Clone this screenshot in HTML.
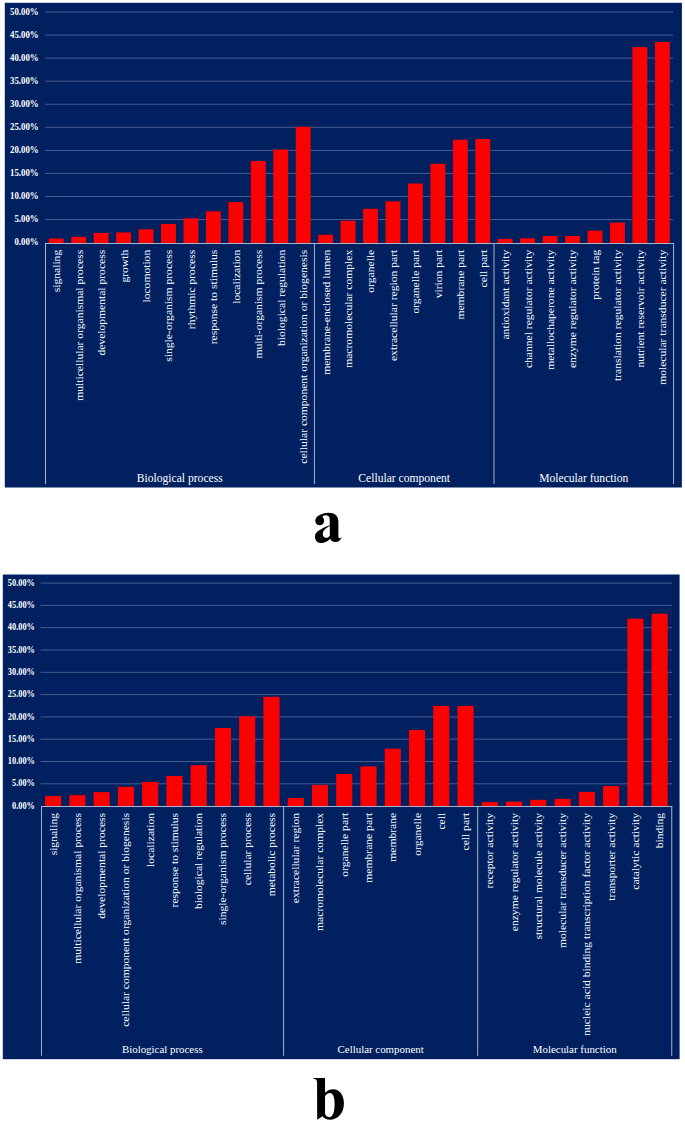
<!DOCTYPE html>
<html><head><meta charset="utf-8"><style>
html,body{margin:0;padding:0;background:#fff;width:685px;height:1123px;overflow:hidden}
svg{display:block}
text{font-family:"Liberation Serif",serif;fill:#ffffff}
.yl{font-weight:bold;text-anchor:end}
.xl{text-anchor:end}
.gl{text-anchor:middle}
</style></head><body>
<svg width="685" height="1123" viewBox="0 0 685 1123">
<rect x="4.8" y="2.8" width="677.10" height="484.70" fill="#002060"/>
<line x1="45" y1="219.54" x2="673.20" y2="219.54" stroke="#475c90" stroke-width="1"/>
<line x1="45" y1="196.48" x2="673.20" y2="196.48" stroke="#475c90" stroke-width="1"/>
<line x1="45" y1="173.42" x2="673.20" y2="173.42" stroke="#475c90" stroke-width="1"/>
<line x1="45" y1="150.36" x2="673.20" y2="150.36" stroke="#475c90" stroke-width="1"/>
<line x1="45" y1="127.30" x2="673.20" y2="127.30" stroke="#475c90" stroke-width="1"/>
<line x1="45" y1="104.24" x2="673.20" y2="104.24" stroke="#475c90" stroke-width="1"/>
<line x1="45" y1="81.18" x2="673.20" y2="81.18" stroke="#475c90" stroke-width="1"/>
<line x1="45" y1="58.12" x2="673.20" y2="58.12" stroke="#475c90" stroke-width="1"/>
<line x1="45" y1="35.06" x2="673.20" y2="35.06" stroke="#475c90" stroke-width="1"/>
<line x1="45" y1="12.00" x2="673.20" y2="12.00" stroke="#475c90" stroke-width="1"/>
<text transform="translate(38.6 245.20) scale(0.917 1)" class="yl" style="font-size:9.6px">0.00%</text>
<text transform="translate(38.6 222.14) scale(0.917 1)" class="yl" style="font-size:9.6px">5.00%</text>
<text transform="translate(38.6 199.08) scale(0.917 1)" class="yl" style="font-size:9.6px">10.00%</text>
<text transform="translate(38.6 176.02) scale(0.917 1)" class="yl" style="font-size:9.6px">15.00%</text>
<text transform="translate(38.6 152.96) scale(0.917 1)" class="yl" style="font-size:9.6px">20.00%</text>
<text transform="translate(38.6 129.90) scale(0.917 1)" class="yl" style="font-size:9.6px">25.00%</text>
<text transform="translate(38.6 106.84) scale(0.917 1)" class="yl" style="font-size:9.6px">30.00%</text>
<text transform="translate(38.6 83.78) scale(0.917 1)" class="yl" style="font-size:9.6px">35.00%</text>
<text transform="translate(38.6 60.72) scale(0.917 1)" class="yl" style="font-size:9.6px">40.00%</text>
<text transform="translate(38.6 37.66) scale(0.917 1)" class="yl" style="font-size:9.6px">45.00%</text>
<text transform="translate(38.6 14.60) scale(0.917 1)" class="yl" style="font-size:9.6px">50.00%</text>
<rect x="48.80" y="238.55" width="14.90" height="4.45" fill="#ff0000"/>
<text transform="translate(60.15 249.8) rotate(-90) scale(1 0.92)" class="xl" style="font-size:11.6px">signaling</text>
<rect x="71.25" y="236.90" width="14.90" height="6.10" fill="#ff0000"/>
<text transform="translate(82.60 249.8) rotate(-90) scale(1 0.92)" class="xl" style="font-size:11.6px">multicellular organismal process</text>
<rect x="93.70" y="232.90" width="14.90" height="10.10" fill="#ff0000"/>
<text transform="translate(105.05 249.8) rotate(-90) scale(1 0.92)" class="xl" style="font-size:11.6px">developmental process</text>
<rect x="116.15" y="232.40" width="14.90" height="10.60" fill="#ff0000"/>
<text transform="translate(127.50 249.8) rotate(-90) scale(1 0.92)" class="xl" style="font-size:11.6px">growth</text>
<rect x="138.60" y="229.30" width="14.90" height="13.70" fill="#ff0000"/>
<text transform="translate(149.95 249.8) rotate(-90) scale(1 0.92)" class="xl" style="font-size:11.6px">locomotion</text>
<rect x="161.04" y="223.90" width="14.90" height="19.10" fill="#ff0000"/>
<text transform="translate(172.39 249.8) rotate(-90) scale(1 0.92)" class="xl" style="font-size:11.6px">single-organism process</text>
<rect x="183.49" y="218.30" width="14.90" height="24.70" fill="#ff0000"/>
<text transform="translate(194.84 249.8) rotate(-90) scale(1 0.92)" class="xl" style="font-size:11.6px">rhythmic process</text>
<rect x="205.94" y="211.35" width="14.90" height="31.65" fill="#ff0000"/>
<text transform="translate(217.29 249.8) rotate(-90) scale(1 0.92)" class="xl" style="font-size:11.6px">response to stimulus</text>
<rect x="228.39" y="202.15" width="14.90" height="40.85" fill="#ff0000"/>
<text transform="translate(239.74 249.8) rotate(-90) scale(1 0.92)" class="xl" style="font-size:11.6px">localization</text>
<rect x="250.84" y="161.00" width="14.90" height="82.00" fill="#ff0000"/>
<text transform="translate(262.19 249.8) rotate(-90) scale(1 0.92)" class="xl" style="font-size:11.6px">multi-organism process</text>
<rect x="273.28" y="149.60" width="14.90" height="93.40" fill="#ff0000"/>
<text transform="translate(284.63 249.8) rotate(-90) scale(1 0.92)" class="xl" style="font-size:11.6px">biological regulation</text>
<rect x="295.73" y="126.80" width="14.90" height="116.20" fill="#ff0000"/>
<text transform="translate(307.08 249.8) rotate(-90) scale(1 0.92)" class="xl" style="font-size:11.6px">cellular component organization or biogenesis</text>
<rect x="318.18" y="234.80" width="14.90" height="8.20" fill="#ff0000"/>
<text transform="translate(329.53 249.8) rotate(-90) scale(1 0.92)" class="xl" style="font-size:11.6px">membrane-enclosed lumen</text>
<rect x="340.63" y="220.75" width="14.90" height="22.25" fill="#ff0000"/>
<text transform="translate(351.98 249.8) rotate(-90) scale(1 0.92)" class="xl" style="font-size:11.6px">macromolecular complex</text>
<rect x="363.08" y="208.80" width="14.90" height="34.20" fill="#ff0000"/>
<text transform="translate(374.43 249.8) rotate(-90) scale(1 0.92)" class="xl" style="font-size:11.6px">organelle</text>
<rect x="385.52" y="201.30" width="14.90" height="41.70" fill="#ff0000"/>
<text transform="translate(396.87 249.8) rotate(-90) scale(1 0.92)" class="xl" style="font-size:11.6px">extracellular region part</text>
<rect x="407.97" y="183.50" width="14.90" height="59.50" fill="#ff0000"/>
<text transform="translate(419.32 249.8) rotate(-90) scale(1 0.92)" class="xl" style="font-size:11.6px">organelle part</text>
<rect x="430.42" y="163.80" width="14.90" height="79.20" fill="#ff0000"/>
<text transform="translate(441.77 249.8) rotate(-90) scale(1 0.92)" class="xl" style="font-size:11.6px">virion part</text>
<rect x="452.87" y="139.70" width="14.90" height="103.30" fill="#ff0000"/>
<text transform="translate(464.22 249.8) rotate(-90) scale(1 0.92)" class="xl" style="font-size:11.6px">membrane part</text>
<rect x="475.32" y="139.00" width="14.90" height="104.00" fill="#ff0000"/>
<text transform="translate(486.67 249.8) rotate(-90) scale(1 0.92)" class="xl" style="font-size:11.6px">cell part</text>
<rect x="497.76" y="238.90" width="14.90" height="4.10" fill="#ff0000"/>
<text transform="translate(509.11 249.8) rotate(-90) scale(1 0.92)" class="xl" style="font-size:11.6px">antioxidant activity</text>
<rect x="520.21" y="238.30" width="14.90" height="4.70" fill="#ff0000"/>
<text transform="translate(531.56 249.8) rotate(-90) scale(1 0.92)" class="xl" style="font-size:11.6px">channel regulator activity</text>
<rect x="542.66" y="236.00" width="14.90" height="7.00" fill="#ff0000"/>
<text transform="translate(554.01 249.8) rotate(-90) scale(1 0.92)" class="xl" style="font-size:11.6px">metallochaperone activity</text>
<rect x="565.11" y="236.00" width="14.90" height="7.00" fill="#ff0000"/>
<text transform="translate(576.46 249.8) rotate(-90) scale(1 0.92)" class="xl" style="font-size:11.6px">enzyme regulator activity</text>
<rect x="587.56" y="230.65" width="14.90" height="12.35" fill="#ff0000"/>
<text transform="translate(598.91 249.8) rotate(-90) scale(1 0.92)" class="xl" style="font-size:11.6px">protein tag</text>
<rect x="610.00" y="222.55" width="14.90" height="20.45" fill="#ff0000"/>
<text transform="translate(621.35 249.8) rotate(-90) scale(1 0.92)" class="xl" style="font-size:11.6px">translation regulator activity</text>
<rect x="632.45" y="47.10" width="14.90" height="195.90" fill="#ff0000"/>
<text transform="translate(643.80 249.8) rotate(-90) scale(1 0.92)" class="xl" style="font-size:11.6px">nutrient reservoir activity</text>
<rect x="654.90" y="42.10" width="14.90" height="200.90" fill="#ff0000"/>
<text transform="translate(666.25 249.8) rotate(-90) scale(1 0.92)" class="xl" style="font-size:11.6px">molecular transducer activity</text>
<line x1="45.0" y1="243.5" x2="674.07" y2="243.5" stroke="#aab2cc" stroke-width="1"/>
<line x1="45.50" y1="243.0" x2="45.50" y2="484" stroke="#aab2cc" stroke-width="1"/>
<line x1="314.41" y1="243.0" x2="314.41" y2="484" stroke="#aab2cc" stroke-width="1"/>
<line x1="493.99" y1="243.0" x2="493.99" y2="484" stroke="#aab2cc" stroke-width="1"/>
<line x1="673.57" y1="243.0" x2="673.57" y2="484" stroke="#aab2cc" stroke-width="1"/>
<text x="179.72" y="481.9" class="gl" style="font-size:11.6px">Biological process</text>
<text x="404.20" y="481.9" class="gl" style="font-size:11.6px">Cellular component</text>
<text x="583.78" y="481.9" class="gl" style="font-size:11.6px">Molecular function</text>
<rect x="2.8" y="574.5" width="676.80" height="484.70" fill="#002060"/>
<line x1="40.7" y1="783.80" x2="672.00" y2="783.80" stroke="#475c90" stroke-width="1"/>
<line x1="40.7" y1="761.50" x2="672.00" y2="761.50" stroke="#475c90" stroke-width="1"/>
<line x1="40.7" y1="739.20" x2="672.00" y2="739.20" stroke="#475c90" stroke-width="1"/>
<line x1="40.7" y1="716.90" x2="672.00" y2="716.90" stroke="#475c90" stroke-width="1"/>
<line x1="40.7" y1="694.60" x2="672.00" y2="694.60" stroke="#475c90" stroke-width="1"/>
<line x1="40.7" y1="672.30" x2="672.00" y2="672.30" stroke="#475c90" stroke-width="1"/>
<line x1="40.7" y1="650.00" x2="672.00" y2="650.00" stroke="#475c90" stroke-width="1"/>
<line x1="40.7" y1="627.70" x2="672.00" y2="627.70" stroke="#475c90" stroke-width="1"/>
<line x1="40.7" y1="605.40" x2="672.00" y2="605.40" stroke="#475c90" stroke-width="1"/>
<line x1="40.7" y1="583.10" x2="672.00" y2="583.10" stroke="#475c90" stroke-width="1"/>
<text transform="translate(34.9 808.70) scale(0.897 1)" class="yl" style="font-size:9.3px">0.00%</text>
<text transform="translate(34.9 786.40) scale(0.897 1)" class="yl" style="font-size:9.3px">5.00%</text>
<text transform="translate(34.9 764.10) scale(0.897 1)" class="yl" style="font-size:9.3px">10.00%</text>
<text transform="translate(34.9 741.80) scale(0.897 1)" class="yl" style="font-size:9.3px">15.00%</text>
<text transform="translate(34.9 719.50) scale(0.897 1)" class="yl" style="font-size:9.3px">20.00%</text>
<text transform="translate(34.9 697.20) scale(0.897 1)" class="yl" style="font-size:9.3px">25.00%</text>
<text transform="translate(34.9 674.90) scale(0.897 1)" class="yl" style="font-size:9.3px">30.00%</text>
<text transform="translate(34.9 652.60) scale(0.897 1)" class="yl" style="font-size:9.3px">35.00%</text>
<text transform="translate(34.9 630.30) scale(0.897 1)" class="yl" style="font-size:9.3px">40.00%</text>
<text transform="translate(34.9 608.00) scale(0.897 1)" class="yl" style="font-size:9.3px">45.00%</text>
<text transform="translate(34.9 585.70) scale(0.897 1)" class="yl" style="font-size:9.3px">50.00%</text>
<rect x="45.07" y="796.10" width="16.12" height="9.90" fill="#ff0000"/>
<text transform="translate(56.63 812.9) rotate(-90) scale(1 0.92)" class="xl" style="font-size:11.6px">signaling</text>
<rect x="69.33" y="795.20" width="16.12" height="10.80" fill="#ff0000"/>
<text transform="translate(80.89 812.9) rotate(-90) scale(1 0.92)" class="xl" style="font-size:11.6px">multicellular organismal process</text>
<rect x="93.59" y="792.15" width="16.12" height="13.85" fill="#ff0000"/>
<text transform="translate(105.15 812.9) rotate(-90) scale(1 0.92)" class="xl" style="font-size:11.6px">developmental process</text>
<rect x="117.85" y="786.80" width="16.12" height="19.20" fill="#ff0000"/>
<text transform="translate(129.41 812.9) rotate(-90) scale(1 0.92)" class="xl" style="font-size:11.6px">cellular component organization or biogenesis</text>
<rect x="142.11" y="781.90" width="16.12" height="24.10" fill="#ff0000"/>
<text transform="translate(153.67 812.9) rotate(-90) scale(1 0.92)" class="xl" style="font-size:11.6px">localization</text>
<rect x="166.37" y="775.90" width="16.12" height="30.10" fill="#ff0000"/>
<text transform="translate(177.93 812.9) rotate(-90) scale(1 0.92)" class="xl" style="font-size:11.6px">response to stimulus</text>
<rect x="190.63" y="765.20" width="16.12" height="40.80" fill="#ff0000"/>
<text transform="translate(202.19 812.9) rotate(-90) scale(1 0.92)" class="xl" style="font-size:11.6px">biological regulation</text>
<rect x="214.89" y="728.06" width="16.12" height="77.94" fill="#ff0000"/>
<text transform="translate(226.45 812.9) rotate(-90) scale(1 0.92)" class="xl" style="font-size:11.6px">single-organism process</text>
<rect x="239.15" y="716.30" width="16.12" height="89.70" fill="#ff0000"/>
<text transform="translate(250.71 812.9) rotate(-90) scale(1 0.92)" class="xl" style="font-size:11.6px">cellular process</text>
<rect x="263.41" y="696.80" width="16.12" height="109.20" fill="#ff0000"/>
<text transform="translate(274.97 812.9) rotate(-90) scale(1 0.92)" class="xl" style="font-size:11.6px">metabolic process</text>
<rect x="287.67" y="798.10" width="16.12" height="7.90" fill="#ff0000"/>
<text transform="translate(299.23 812.9) rotate(-90) scale(1 0.92)" class="xl" style="font-size:11.6px">extracellular region</text>
<rect x="311.93" y="784.90" width="16.12" height="21.10" fill="#ff0000"/>
<text transform="translate(323.49 812.9) rotate(-90) scale(1 0.92)" class="xl" style="font-size:11.6px">macromolecular complex</text>
<rect x="336.19" y="774.00" width="16.12" height="32.00" fill="#ff0000"/>
<text transform="translate(347.75 812.9) rotate(-90) scale(1 0.92)" class="xl" style="font-size:11.6px">organelle part</text>
<rect x="360.45" y="766.40" width="16.12" height="39.60" fill="#ff0000"/>
<text transform="translate(372.01 812.9) rotate(-90) scale(1 0.92)" class="xl" style="font-size:11.6px">membrane part</text>
<rect x="384.71" y="748.70" width="16.12" height="57.30" fill="#ff0000"/>
<text transform="translate(396.27 812.9) rotate(-90) scale(1 0.92)" class="xl" style="font-size:11.6px">membrane</text>
<rect x="408.97" y="730.00" width="16.12" height="76.00" fill="#ff0000"/>
<text transform="translate(420.53 812.9) rotate(-90) scale(1 0.92)" class="xl" style="font-size:11.6px">organelle</text>
<rect x="433.23" y="705.90" width="16.12" height="100.10" fill="#ff0000"/>
<text transform="translate(444.79 812.9) rotate(-90) scale(1 0.92)" class="xl" style="font-size:11.6px">cell</text>
<rect x="457.49" y="705.90" width="16.12" height="100.10" fill="#ff0000"/>
<text transform="translate(469.05 812.9) rotate(-90) scale(1 0.92)" class="xl" style="font-size:11.6px">cell part</text>
<rect x="481.75" y="802.15" width="16.12" height="3.85" fill="#ff0000"/>
<text transform="translate(493.31 812.9) rotate(-90) scale(1 0.92)" class="xl" style="font-size:11.6px">receptor activity</text>
<rect x="506.01" y="801.60" width="16.12" height="4.40" fill="#ff0000"/>
<text transform="translate(517.57 812.9) rotate(-90) scale(1 0.92)" class="xl" style="font-size:11.6px">enzyme regulator activity</text>
<rect x="530.27" y="799.80" width="16.12" height="6.20" fill="#ff0000"/>
<text transform="translate(541.83 812.9) rotate(-90) scale(1 0.92)" class="xl" style="font-size:11.6px">structural molecule activity</text>
<rect x="554.53" y="798.90" width="16.12" height="7.10" fill="#ff0000"/>
<text transform="translate(566.09 812.9) rotate(-90) scale(1 0.92)" class="xl" style="font-size:11.6px">molecular transducer activity</text>
<rect x="578.79" y="791.90" width="16.12" height="14.10" fill="#ff0000"/>
<text transform="translate(590.35 812.9) rotate(-90) scale(1 0.92)" class="xl" style="font-size:11.6px">nucleic acid binding transcription factor activity</text>
<rect x="603.05" y="786.10" width="16.12" height="19.90" fill="#ff0000"/>
<text transform="translate(614.61 812.9) rotate(-90) scale(1 0.92)" class="xl" style="font-size:11.6px">transporter activity</text>
<rect x="627.31" y="618.65" width="16.12" height="187.35" fill="#ff0000"/>
<text transform="translate(638.87 812.9) rotate(-90) scale(1 0.92)" class="xl" style="font-size:11.6px">catalytic activity</text>
<rect x="651.57" y="613.75" width="16.12" height="192.25" fill="#ff0000"/>
<text transform="translate(663.13 812.9) rotate(-90) scale(1 0.92)" class="xl" style="font-size:11.6px">binding</text>
<line x1="41.0" y1="806.5" x2="672.26" y2="806.5" stroke="#aab2cc" stroke-width="1"/>
<line x1="41.50" y1="806.0" x2="41.50" y2="1055.8" stroke="#aab2cc" stroke-width="1"/>
<line x1="283.60" y1="806.0" x2="283.60" y2="1055.8" stroke="#aab2cc" stroke-width="1"/>
<line x1="477.68" y1="806.0" x2="477.68" y2="1055.8" stroke="#aab2cc" stroke-width="1"/>
<line x1="671.76" y1="806.0" x2="671.76" y2="1055.8" stroke="#aab2cc" stroke-width="1"/>
<text x="162.30" y="1053.4" class="gl" style="font-size:10.9px">Biological process</text>
<text x="380.64" y="1053.4" class="gl" style="font-size:10.9px">Cellular component</text>
<text x="574.72" y="1053.4" class="gl" style="font-size:10.9px">Molecular function</text>
<g transform="translate(310 508) scale(0.05255)"><path fill="#000" fill-rule="evenodd" d="M 100 245 C 100 160 220 90 350 90 C 470 90 540 150 540 260 L 540 540 C 540 570 555 578 575 572 L 605 560 C 580 610 540 645 490 645 C 430 645 395 620 385 585 C 330 640 270 665 210 665 C 140 665 95 615 95 545 C 95 450 200 400 375 330 L 375 215 C 375 160 340 140 300 140 C 265 140 240 155 240 175 C 260 195 270 220 270 245 C 270 295 230 330 185 330 C 135 330 100 295 100 245 Z M 377 344 L 377 526 C 352 556 328 566 305 566 C 268 566 244 536 244 499 C 244 430 300 386 377 344 Z"/></g>
<g transform="translate(308 1074) scale(0.06131)"><path fill="#000" fill-rule="evenodd" d="M 85 65 L 277 65 L 278 305 C 320 265 360 248 405 248 C 520 248 586 350 586 480 C 586 640 480 745 355 745 C 305 745 265 725 235 690 L 150 745 L 148 140 C 148 100 130 82 85 78 Z M 278 360 C 300 325 330 308 360 308 C 412 308 434 390 434 490 C 434 620 405 705 350 705 C 310 705 285 680 278 650 Z"/></g>
</svg>
</body></html>
